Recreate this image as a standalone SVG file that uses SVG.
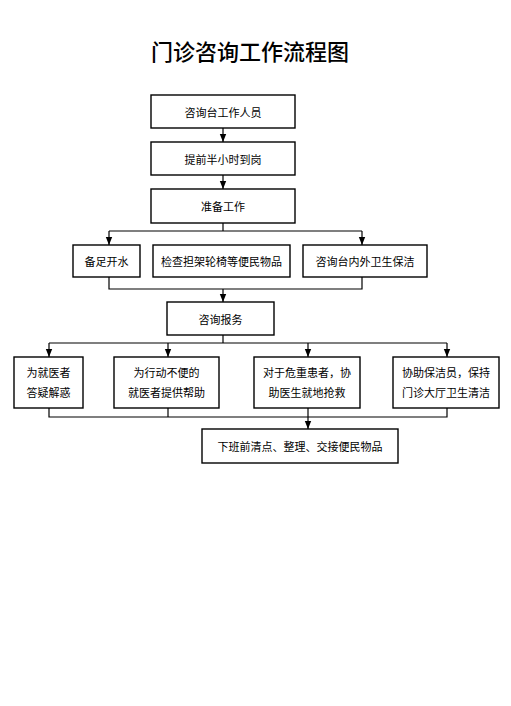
<svg xmlns="http://www.w3.org/2000/svg" width="511" height="706" viewBox="0 0 511 706">
<style>
.b{fill:#fff;stroke:#000;stroke-width:1.4}
.t{font-family:"Noto Sans CJK SC","Noto Sans",sans-serif;font-size:11px;fill:#000;text-anchor:middle;dominant-baseline:central}
.c{fill:none;stroke:#000;stroke-width:1.2}
</style>
<defs>
<marker id="a" viewBox="0 0 8 8" refX="8" refY="4" markerWidth="8" markerHeight="8" markerUnits="userSpaceOnUse" orient="auto"><path d="M0,0.8L8,4L0,7.2Z" fill="#000"/></marker>
</defs>
<rect width="511" height="706" fill="#fff"/>
<text x="250" y="50" style="font-family:'Noto Sans CJK SC',sans-serif;font-size:22px;font-weight:500;text-anchor:middle;dominant-baseline:central">门诊咨询工作流程图</text>
<g id="connectors">
<path class="c" d="M223,128V142" marker-end="url(#a)"/>
<path class="c" d="M223,175V189" marker-end="url(#a)"/>
<path class="c" d="M223,223V231"/>
<path class="c" d="M109,231H362"/>
<path class="c" d="M109,231V245" marker-end="url(#a)"/>
<path class="c" d="M362,231V245" marker-end="url(#a)"/>
<path class="c" d="M109,277V289H362V277"/>
<path class="c" d="M223,289V302" marker-end="url(#a)"/>
<path class="c" d="M223,335V343"/>
<path class="c" d="M49,343H447"/>
<path class="c" d="M49,343V357" marker-end="url(#a)"/>
<path class="c" d="M168,343V357" marker-end="url(#a)"/>
<path class="c" d="M308,343V357" marker-end="url(#a)"/>
<path class="c" d="M447,343V357" marker-end="url(#a)"/>
<path class="c" d="M49,408V417H447V408"/>
<path class="c" d="M168,408V417"/>
<path class="c" d="M308,408V429" marker-end="url(#a)"/>
</g>
<g id="n1"><rect class="b" x="151" y="95" width="144" height="33"/><text class="t" x="223" y="111.5">咨询台工作人员</text></g>
<g id="n2"><rect class="b" x="151" y="142" width="144" height="33"/><text class="t" x="223" y="158.5">提前半小时到岗</text></g>
<g id="n3"><rect class="b" x="151" y="189" width="144" height="34"/><text class="t" x="223" y="206">准备工作</text></g>
<g id="n4"><rect class="b" x="73" y="245" width="67" height="32"/><text class="t" x="106.5" y="261">备足开水</text></g>
<g id="n5"><rect class="b" x="153" y="245" width="137" height="32"/><text class="t" x="221.5" y="261">检查担架轮椅等便民物品</text></g>
<g id="n6"><rect class="b" x="303" y="245" width="124" height="32"/><text class="t" x="365" y="261">咨询台内外卫生保洁</text></g>
<g id="n7"><rect class="b" x="167" y="302" width="107" height="33"/><text class="t" x="220.5" y="318.5">咨询报务</text></g>
<g id="n8"><rect class="b" x="14" y="357" width="69" height="51"/><text class="t" x="48.5" y="372">为就医者</text><text class="t" x="48.5" y="392">答疑解惑</text></g>
<g id="n9"><rect class="b" x="114" y="357" width="105" height="51"/><text class="t" x="166.5" y="372">为行动不便的</text><text class="t" x="166.5" y="392">就医者提供帮助</text></g>
<g id="n10"><rect class="b" x="254" y="357" width="106" height="51"/><text class="t" x="307" y="372">对于危重患者，协</text><text class="t" x="307" y="392">助医生就地抢救</text></g>
<g id="n11"><rect class="b" x="393" y="357" width="106" height="51"/><text class="t" x="446" y="372">协助保洁员，保持</text><text class="t" x="446" y="392">门诊大厅卫生清洁</text></g>
<g id="n12"><rect class="b" x="202" y="429" width="196" height="34"/><text class="t" x="300" y="446">下班前清点、整理、交接便民物品</text></g>
</svg>
